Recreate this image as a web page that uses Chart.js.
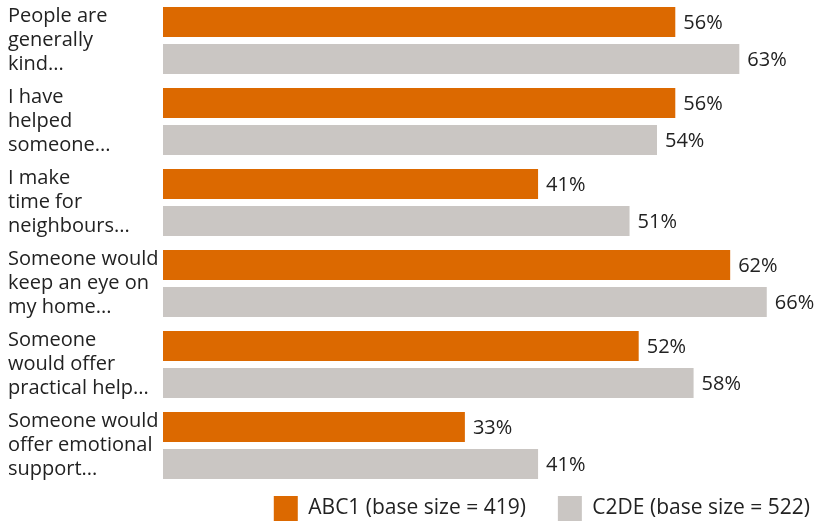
<!DOCTYPE html>
<html><head><meta charset="utf-8">
<script src="https://cdn.jsdelivr.net/npm/chart.js@4/dist/chart.umd.min.js"></script>
<style>html,body{margin:0;padding:0;background:#fff}#wrap{width:818px;height:524px}</style>
</head><body><div id="wrap"><canvas id="c"></canvas></div>
<script>
const categories = [
  ["People are", "generally", "kind..."],
  ["I have", "helped", "someone..."],
  ["I make", "time for", "neighbours..."],
  ["Someone would", "keep an eye on", "my home..."],
  ["Someone", "would offer", "practical help..."],
  ["Someone would", "offer emotional", "support..."]
];
const abc1 = [56, 56, 41, 62, 52, 33];
const c2de = [63, 54, 51, 66, 58, 41];
const seriesNames = ["ABC1 (base size = 419)", "C2DE (base size = 522)"];

const FONT = "'Open Sans', sans-serif";
const valueLabels = {
  id: 'valueLabels',
  afterDatasetsDraw(chart) {
    const ctx = chart.ctx;
    ctx.save();
    ctx.font = "20px " + FONT;
    ctx.fillStyle = '#222';
    ctx.textBaseline = 'middle';
    ctx.textAlign = 'left';
    chart.data.datasets.forEach((ds, i) => {
      chart.getDatasetMeta(i).data.forEach((bar, j) => {
        ctx.fillText(ds.data[j] + '%', bar.x + 8, bar.y + 1);
      });
    });
    ctx.restore();
  }
};
const legendPlace = {
  id: 'legendPlace',
  beforeInit(chart) {
    const orig = chart.legend.fit;
    chart.legend.fit = function () { orig.call(this); this.height = 38; };
  },
  afterLayout(chart) {
    const lg = chart.legend;
    lg.top -= 22;
    lg.bottom = chart.height;
    lg.height = lg.bottom - lg.top;
    lg.left += 24; lg.right += 24;
  }
};

new Chart(document.getElementById('c'), {
  type: 'bar',
  data: {
    labels: categories,
    datasets: [
      { label: seriesNames[0], data: abc1, backgroundColor: '#DC6900', categoryPercentage: 0.914, barPercentage: 0.81 },
      { label: seriesNames[1], data: c2de, backgroundColor: '#CAC6C3', categoryPercentage: 0.914, barPercentage: 0.81 }
    ]
  },
  options: {
    indexAxis: 'y',
    responsive: true,
    maintainAspectRatio: false,
    animation: false,
    layout: { padding: { left: 8, right: 0, top: 0, bottom: 0 } },
    scales: {
      x: { min: 0, max: 71.6, display: false, grid: { display: false } },
      y: {
        grid: { display: false },
        border: { display: false },
        ticks: { crossAlign: 'far', color: '#222', font: { family: FONT, size: 20, lineHeight: 1.2 }, padding: 4 },
        afterFit(s) { s.width = 155; s.paddingTop = 0; s.paddingBottom = 0; }
      }
    },
    plugins: {
      legend: {
        position: 'bottom',
        align: 'end',
        labels: { boxWidth: 24, boxHeight: 25, color: '#222', padding: 32, font: { family: FONT, size: 21 } }
      },
      tooltip: { enabled: false }
    }
  },
  plugins: [valueLabels, legendPlace]
});
</script></body></html>
